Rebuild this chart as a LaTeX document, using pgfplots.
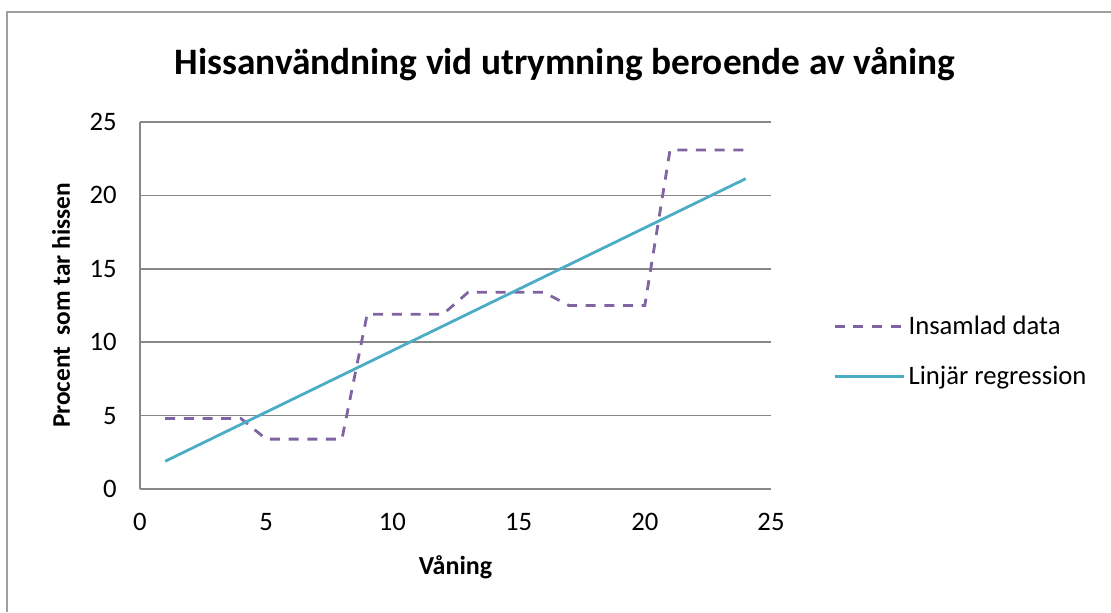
\documentclass[border=0pt]{standalone}
\usepackage{pgfplots}
\pgfplotsset{compat=1.18}
\usepackage{fontspec}
\setmainfont{Carlito}
\definecolor{purp}{HTML}{8064A2}
\definecolor{cyanl}{HTML}{4BACC6}
\definecolor{gridc}{HTML}{878787}
\def\u{0.75pt}
\begin{document}
\begin{tikzpicture}
\useasboundingbox (0,0) rectangle ({1111*\u},{-612*\u});
\draw[gridc!80, line width=1.1pt] ({7*\u},{-612*\u}) -- ({7*\u},{-12*\u}) -- ({1111*\u},{-12*\u});
\begin{axis}[
  at={({140*\u},{-489*\u})}, anchor=south west,
  scale only axis, width={631*\u}, height={367*\u},
  xmin=0, xmax=25, ymin=0, ymax=25,
  xtick={0,5,...,25}, ytick={0,5,...,25},
  axis lines*=left,
  axis line style={draw=gridc, line width=1.1pt, -},
  ymajorgrids, grid style={draw=gridc, line width=1.1pt},
  major tick length=0pt,
  tick label style={font=\fontsize{20}{24}\selectfont},
  /pgf/number format/assume math mode=true,
  xticklabel style={yshift=-14.5pt},
  yticklabel style={xshift=-14pt},
  title={Hissanvändning vid utrymning beroende av våning},
  title style={at={(0.6735,1.109)}, anchor=base, font=\bfseries\fontsize{28}{32}\selectfont},
  xlabel={Våning},
  xlabel style={at={(0.5,-0.2316)}, anchor=base, font=\bfseries\fontsize{19.5}{23}\selectfont},
  ylabel={Procent\ \ som tar hissen},
  ylabel style={at={(-0.111,0.5)}, anchor=base, font=\bfseries\fontsize{19}{23}\selectfont},
  legend style={at={(1.098,0.375)}, anchor=west, draw=none, fill=none, inner sep=0pt,
    font=\fontsize{20}{24}\selectfont, row sep=17.5pt, nodes={inner sep=2.5pt}},
  legend cell align=left,
  legend image code/.code={\draw[#1] (0pt,0pt) -- (52pt,0pt);},
]
\addplot[purp, line width=2.1pt, dash pattern=on 7.5pt off 6.5pt] coordinates {
(1,4.8) (2,4.8) (3,4.8) (4,4.8)
(5,3.4) (6,3.4) (7,3.4) (8,3.4)
(9,11.9) (10,11.9) (11,11.9) (12,11.9)
(13,13.4) (14,13.4) (15,13.4) (16,13.4)
(17,12.5) (18,12.5) (19,12.5) (20,12.5)
(21,23.1) (22,23.1) (23,23.1) (24,23.1)
};
\addlegendentry{Insamlad data}
\addplot[cyanl, line width=2.1pt] coordinates {
(1,1.892) (2,2.729) (3,3.566) (4,4.403) (5,5.240) (6,6.076)
(7,6.913) (8,7.750) (9,8.587) (10,9.424) (11,10.261) (12,11.098)
(13,11.935) (14,12.772) (15,13.609) (16,14.445) (17,15.282) (18,16.119)
(19,16.956) (20,17.793) (21,18.630) (22,19.467) (23,20.304) (24,21.141)
};
\addlegendentry{Linjär regression}
\end{axis}
\end{tikzpicture}
\end{document}
